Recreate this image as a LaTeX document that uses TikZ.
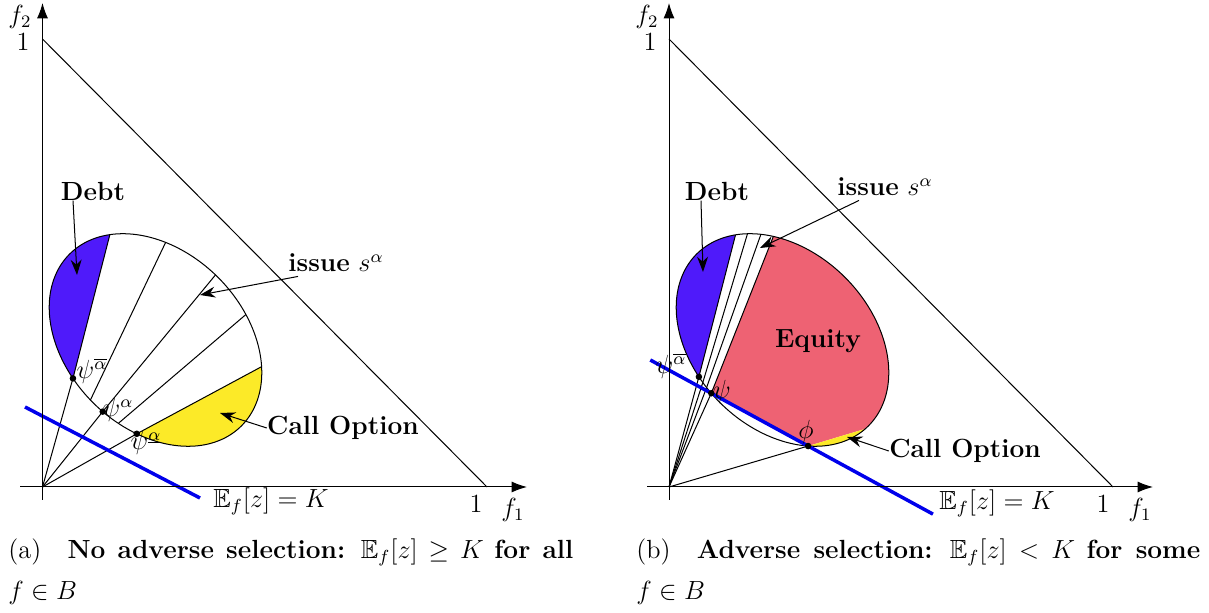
\documentclass[tikz,border=0pt]{standalone}
\usepackage{amssymb}
\usetikzlibrary{calc,arrows.meta}
\definecolor{debtc}{RGB}{79,26,250}
\definecolor{eqc}{RGB}{238,98,115}
\definecolor{callc}{RGB}{252,234,40}
\definecolor{klinec}{RGB}{0,0,235}
\begin{document}
\begin{tikzpicture}[x=0.457pt,y=-0.457pt,
  every node/.style={font=\large,inner sep=0pt},
  ln/.style={line width=0.46pt},
  axisarr/.style={line width=0.46pt,-{Latex[length=7pt,width=5pt]}},
  annot/.style={line width=0.46pt,-{Stealth[length=7pt,width=5pt,inset=2.3pt]}},
  kline/.style={klinec,line width=1.6pt},
  dot/.style={fill=black}]
\useasboundingbox (0,0) rectangle (1209,613);

%================ LEFT PANEL =================
\coordinate (LO) at (42.5,487);
\foreach \n/\t in {LA0/255.1,LA1/151.5,LB0/268.3,LB1/120.6,LC0/276.3,LC1/91.7,LD0/285.6,LD1/67.8,LE0/295.9,LE1/39.4}
  \coordinate (\n) at ({155.5+(121.5*cos(\t)+88.5*sin(\t))*0.7071},{340+(121.5*cos(\t)-88.5*sin(\t))*0.7071});

\fill[debtc] (LA0) -- (LA1) -- plot[domain=151.5:255.1,samples=60,variable=\t]
  ({155.5+(121.5*cos(\t)+88.5*sin(\t))*0.7071},{340+(121.5*cos(\t)-88.5*sin(\t))*0.7071}) -- cycle;
\fill[callc] (LE1) -- (LE0) -- plot[domain=-64.1:39.4,samples=60,variable=\t]
  ({155.5+(121.5*cos(\t)+88.5*sin(\t))*0.7071},{340+(121.5*cos(\t)-88.5*sin(\t))*0.7071}) -- cycle;
\draw[ln] plot[domain=0:360,samples=181,variable=\t]
  ({155.5+(121.5*cos(\t)+88.5*sin(\t))*0.7071},{340+(121.5*cos(\t)-88.5*sin(\t))*0.7071}) -- cycle;

\draw[ln] (LO) -- (LA0) -- (LA1);
\draw[ln] (LB0) -- (LB1);
\draw[ln] (LO) -- (LC0) -- (LC1);
\draw[ln] (LD0) -- (LD1);
\draw[ln] (LO) -- (LE0) -- (LE1);
\foreach \p in {LA0,LC0,LE0} \fill[dot] (\p) circle[radius=1.5pt];

\coordinate (LK0) at (25,407);
\coordinate (LK1) at (200,498);
\draw[kline] (LK0) -- (LK1);

\draw[axisarr] (20,487) -- (527,487);
\draw[axisarr] (42.5,500) -- (42.5,3);
\coordinate (LH0) at (42.5,39);
\coordinate (LH1) at (487,487);
\draw[ln] (LH0) -- (LH1);

\node (f2L) at (20,17) {$f_2$};
\node (oneyL) at (23,42) {$1$};
\node (f1L) at (513,510) {$f_1$};
\node (onexL) at (476,504) {$1$};
\node (EL) at (271,501) {$\mathbb{E}_f[z]=K$};

\node (psiaL) at (92,371) {$\psi^{\overline{\alpha}}$};
\node (psibL) at (118,410) {$\psi^{\alpha}$};
\node (psicL) at (146,443) {$\psi^{\underline{\alpha}}$};

\node (debtL) at (93,191) {\textbf{Debt}};
\coordinate (debtLtip) at (77,275);
\draw[annot] ($(debtL.south)+(-20,0)$) -- (debtLtip);
\node (issL) at (336,263) {\textbf{issue} $s^{\alpha}$};
\coordinate (issLtip) at (200,295);
\draw[annot] ($(issL.south west)+(10,4)$) -- (issLtip);
\node (callL) at (343,428) {\textbf{Call Option}};
\coordinate (callLtip) at (220,413);
\draw[annot] (callL.west) -- (callLtip);

\node[anchor=west] (capA) at (8,552) {\makebox[258.2pt][s]{(a)\quad\textbf{No adverse selection:} $\mathbb{E}_f[z]\geq K$ \textbf{for all}}};
\node[anchor=west] (capA2) at (8,593) {$f\in B$};

%================ RIGHT PANEL =================
\coordinate (RO) at (669,487);
\foreach \n/\t in {RA0/254.2,RA1/152.3,RB0/257.5,RB1/145.3,RC0/260.5,RC1/137.8,RD0/264,RD1/131,RF/320,RG/357.2}
  \coordinate (\n) at ({782.5+(121.5*cos(\t)+88.5*sin(\t))*0.7071},{340+(121.5*cos(\t)-88.5*sin(\t))*0.7071});

\fill[debtc] (RA0) -- (RA1) -- plot[domain=152.3:254.2,samples=60,variable=\t]
  ({782.5+(121.5*cos(\t)+88.5*sin(\t))*0.7071},{340+(121.5*cos(\t)-88.5*sin(\t))*0.7071}) -- cycle;
\fill[eqc] (RF) -- (RG) -- plot[domain=-2.8:131,samples=90,variable=\t]
  ({782.5+(121.5*cos(\t)+88.5*sin(\t))*0.7071},{340+(121.5*cos(\t)-88.5*sin(\t))*0.7071}) -- (RD0) -- cycle;
\fill[callc] (RG) -- (RF) -- plot[domain=-40:-2.8,samples=40,variable=\t]
  ({782.5+(121.5*cos(\t)+88.5*sin(\t))*0.7071},{340+(121.5*cos(\t)-88.5*sin(\t))*0.7071}) -- cycle;
\draw[ln] plot[domain=0:360,samples=181,variable=\t]
  ({782.5+(121.5*cos(\t)+88.5*sin(\t))*0.7071},{340+(121.5*cos(\t)-88.5*sin(\t))*0.7071}) -- cycle;

\draw[ln] (RO) -- (RA0) -- (RA1);
\draw[ln] (RO) -- (RB0) -- (RB1);
\draw[ln] (RO) -- (RC0) -- (RC1);
\draw[ln] (RO) -- (RD0) -- (RD1);
\draw[ln] (RO) -- (RF);

\draw[kline] ($(RD0)!-0.63!(RF)$) -- ($(RF)!-1.29!(RD0)$);
\foreach \p in {RA0,RD0,RF} \fill[dot] (\p) circle[radius=1.5pt];

\draw[axisarr] (647,487) -- (1153,487);
\draw[axisarr] (669,500) -- (669,3);
\coordinate (RH0) at (669,39);
\coordinate (RH1) at (1113,487);
\draw[ln] (RH0) -- (RH1);

\node (f2R) at (647,17) {$f_2$};
\node (oneyR) at (650,42) {$1$};
\node (f1R) at (1140,510) {$f_1$};
\node (onexR) at (1103,504) {$1$};
\node (ER) at (997,503) {$\mathbb{E}_f[z]=K$};

\node (psiaR) at (671,366) {$\psi^{\overline{\alpha}}$};
\node (psiR) at (722,392) {$\psi$};
\node (phiR) at (806,432) {$\phi$};

\node (debtR) at (717,191) {\textbf{Debt}};
\coordinate (debtRtip) at (703,272);
\draw[annot] ($(debtR.south)+(-16,0)$) -- (debtRtip);
\node (issR) at (885,187) {\textbf{issue} $s^{\alpha}$};
\coordinate (issRtip) at (760,248);
\draw[annot] ($(issR.south west)+(22,4)$) -- (issRtip);
\node (eqR) at (818,341) {\textbf{Equity}};
\node (callR) at (965,451) {\textbf{Call Option}};
\coordinate (callRtip) at (847,437);
\draw[annot] (callR.west) -- (callRtip);

\node[anchor=west] (capB) at (636,552) {\makebox[257.7pt][s]{(b)\quad\textbf{Adverse selection:} $\mathbb{E}_f[z]<K$ \textbf{for some}}};
\node[anchor=west] (capB2) at (636,593) {$f\in B$};
\end{tikzpicture}
\end{document}
